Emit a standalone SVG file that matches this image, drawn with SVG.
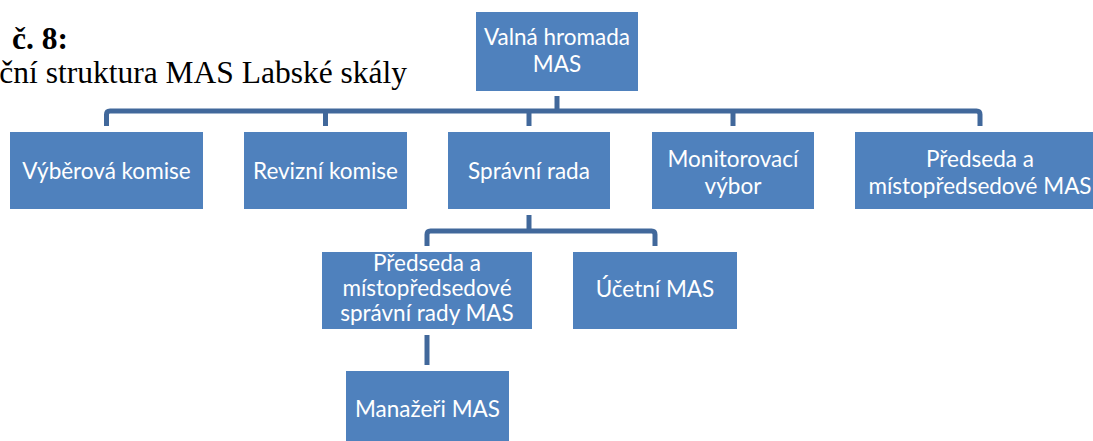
<svg xmlns="http://www.w3.org/2000/svg" width="1093" height="441" viewBox="0 0 1093 441">
<style>
.box{fill:#4F81BD;}
.lbl{font-family:Lato,"Liberation Sans",sans-serif;font-size:22.5px;fill:#FFFFFF;text-anchor:middle;}
.con{fill:none;stroke:#41689B;stroke-width:5;}
.ttl{font-family:"Liberation Serif",serif;font-size:31.5px;fill:#000000;}
</style>
<rect width="1093" height="441" fill="#FFFFFF"/>
<text class="ttl" x="12" y="49" font-weight="bold">č. 8:</text>
<text class="ttl" x="407" y="83" text-anchor="end">ční struktura MAS Labské skály</text>
<g id="connectors">
<path class="con" d="M557,96 V111"/>
<path class="con" d="M106.5,126 V114.5 Q106.5,111 110,111 H976.5 Q980,111 980,114.5 V126"/>
<path class="con" d="M325.5,111 V126"/>
<path class="con" d="M529,111 V126"/>
<path class="con" d="M733,111 V126"/>
<path class="con" d="M529,215 V231"/>
<path class="con" d="M427,246 V234.5 Q427,231 430.5,231 H651.5 Q655,231 655,234.5 V246"/>
<path class="con" d="M427,335 V365"/>
</g>
<g id="valna-hromada">
<rect class="box" x="476" y="12" width="162" height="79"/>
<text class="lbl" x="557" y="45">Valná hromada</text>
<text class="lbl" x="557" y="72">MAS</text>
</g>
<g id="vyberova-komise">
<rect class="box" x="10" y="132" width="193" height="77"/>
<text class="lbl" x="106.5" y="179">Výběrová komise</text>
</g>
<g id="revizni-komise">
<rect class="box" x="244" y="132" width="163" height="77"/>
<text class="lbl" x="325.5" y="179">Revizní komise</text>
</g>
<g id="spravni-rada">
<rect class="box" x="448" y="132" width="162" height="77"/>
<text class="lbl" x="529" y="179">Správní rada</text>
</g>
<g id="monitorovaci-vybor">
<rect class="box" x="652" y="132" width="162" height="77"/>
<text class="lbl" x="733" y="167">Monitorovací</text>
<text class="lbl" x="733" y="194">výbor</text>
</g>
<g id="predseda-mas">
<rect class="box" x="855" y="132" width="250" height="77"/>
<text class="lbl" x="980" y="167">Předseda a</text>
<text class="lbl" x="980" y="194">místopředsedové MAS</text>
</g>
<g id="predseda-spravni-rady">
<rect class="box" x="322" y="252" width="210" height="77"/>
<text class="lbl" x="427" y="271">Předseda a</text>
<text class="lbl" x="427" y="296">místopředsedové</text>
<text class="lbl" x="427" y="321">správní rady MAS</text>
</g>
<g id="ucetni-mas">
<rect class="box" x="573" y="252" width="164" height="77"/>
<text class="lbl" x="655" y="297">Účetní MAS</text>
</g>
<g id="manazeri-mas">
<rect class="box" x="346" y="371" width="163" height="78"/>
<text class="lbl" x="427.5" y="417">Manažeři MAS</text>
</g>
</svg>
